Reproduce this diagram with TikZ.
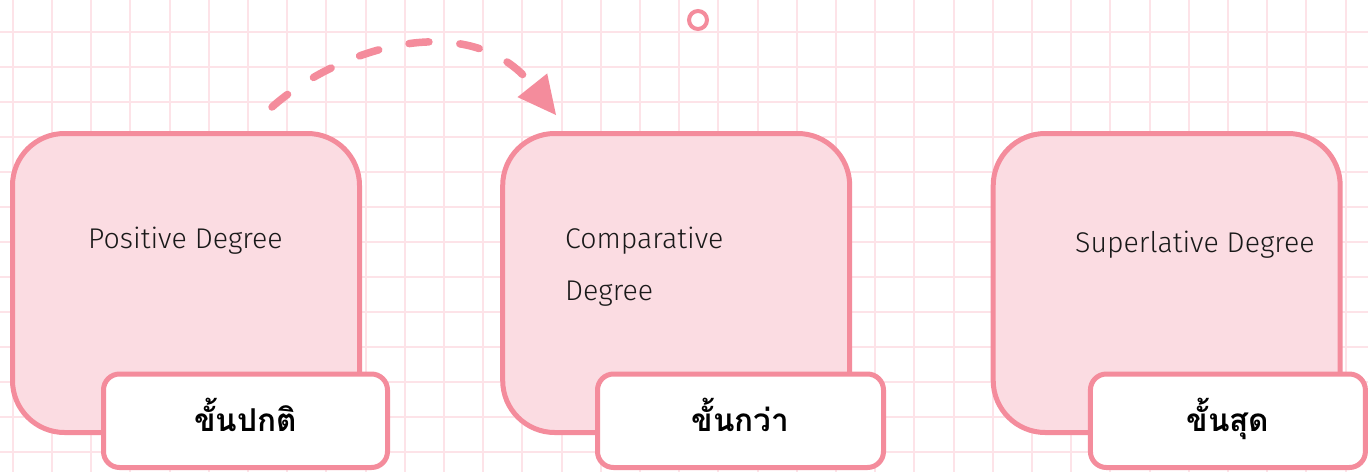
\documentclass[tikz,border=0pt]{standalone}
\usepackage{fontspec}
\newfontfamily\thaifont[Script=Thai]{Loma}
\newfontfamily\latinfont{Fira Sans Light}
\usetikzlibrary{arrows.meta}
\definecolor{gridpink}{HTML}{FDE3E8}
\definecolor{edgepink}{HTML}{F48C9C}
\definecolor{fillpink}{HTML}{FBDCE2}
\begin{document}
\begin{tikzpicture}[x=1pt,y=-1pt,
  bigbox/.style={draw=edgepink, fill=fillpink, line width=5pt, rounded corners=52pt,
    minimum width=347pt, minimum height=299pt, inner sep=0pt},
  tagbox/.style={draw=edgepink, fill=white, line width=5pt, rounded corners=16pt,
    minimum height=93.5pt, inner sep=0pt, text height=22pt, text depth=0pt,
    font=\thaifont\bfseries\fontsize{31.5}{36}\selectfont},
  desc/.style={anchor=base west, inner sep=0pt, text=black!90,
    font=\latinfont\fontsize{28.5}{32}\selectfont},
  gridline/.style={draw=gridpink, line width=2pt},
  flow/.style={draw=edgepink, line width=7.5pt, line cap=round,
    dash pattern=on 20pt off 31pt,
    -{Triangle[length=38pt,width=38pt,line width=0pt]}}
]
\useasboundingbox (0,0) rectangle (1368,472);
\fill[white] (0,0) rectangle (1368,472);
% grid
\foreach \k in {0,...,34} {
  \draw[gridline] ({12.7+39.2*\k},0) -- ({12.7+39.2*\k},472);
}
\foreach \k in {0,...,12} {
  \draw[gridline] (0,{32.3+35*\k}) -- (1368,{32.3+35*\k});
}
% main boxes
\node[bigbox] (b1) at (186,283) {};
\node[bigbox] (b2) at (676.2,283) {};
\node[bigbox] (b3) at (1166.7,283) {};
% descriptions
\node[desc] (d1) at (88,248) {Positive Degree};
\node[desc] (d2a) at (565,248) {Comparative};
\node[desc] (d2b) at (565,300) {Degree};
\node[desc] (d3) at (1075,252.5) {Superlative Degree};
% tags
\node[tagbox, minimum width=284pt] (t1) at (245.5,420.75) {ขั้นปกติ};
\node[tagbox, minimum width=286pt] (t2) at (740.5,420.75) {ขั้นกว่า};
\node[tagbox, minimum width=275pt] (t3) at (1227.9,420.75) {ขั้นสุด};
% small circle
\node[circle, draw=edgepink, fill=white, line width=4pt, minimum size=18pt, inner sep=0pt] (dot) at (698,20) {};
% dashed arrow
\coordinate (as) at (272,107);
\coordinate (ae) at (556,115);
\draw[flow] (as) .. controls (340,47) and (470,7) .. (ae);
\end{tikzpicture}
\end{document}
